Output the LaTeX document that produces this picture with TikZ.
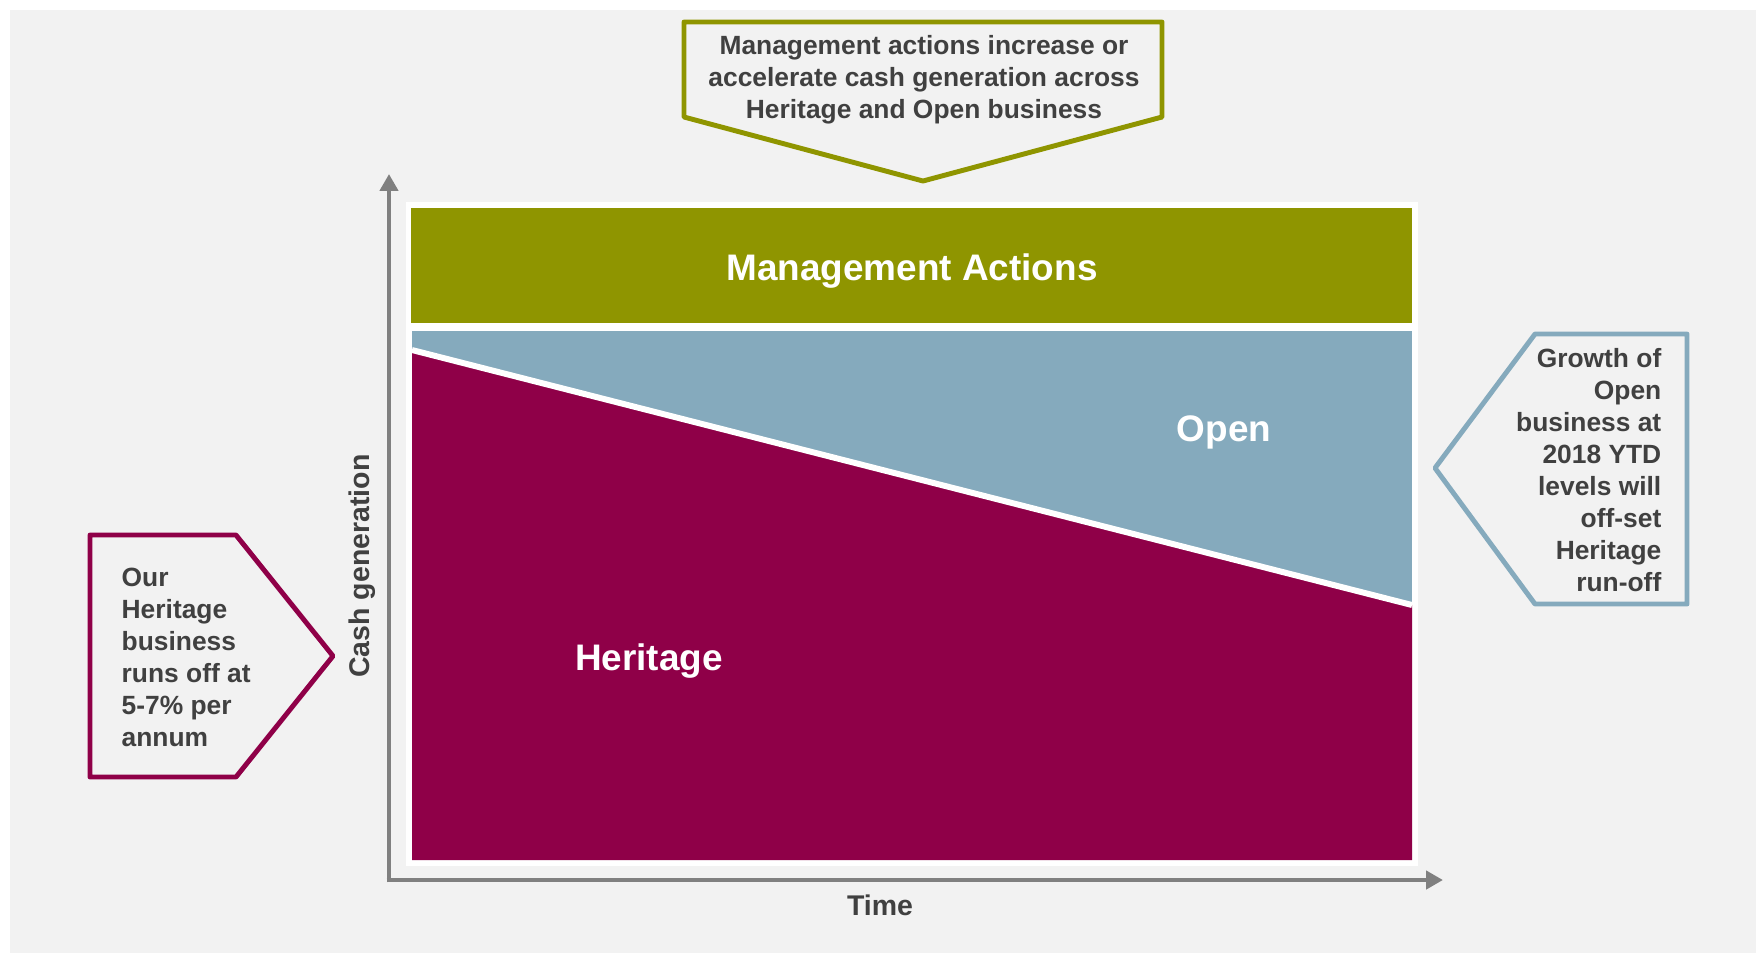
\documentclass[tikz,border=0pt]{standalone}
\usepackage{fontspec}
\setmainfont{Liberation Sans}
\usetikzlibrary{arrows.meta}
\definecolor{bgGrey}{HTML}{F2F2F2}
\definecolor{mgmtGreen}{HTML}{8F9500}
\definecolor{openBlue}{HTML}{85AABD}
\definecolor{herRed}{HTML}{8F0048}
\definecolor{txtGrey}{HTML}{404040}
\definecolor{axGrey}{HTML}{808080}

\begin{document}
\begin{tikzpicture}[x=0.01cm,y=-0.01cm,
  callout/.style={line width=1.4pt,line join=round,fill=bgGrey},
  note/.style={inner sep=0pt,text=txtGrey,font=\fontsize{7.5}{9.1}\selectfont\bfseries},
  band/.style={inner sep=0pt,text=white,font=\fontsize{10.5}{12.6}\selectfont\bfseries},
  axis/.style={axGrey,line width=1.4pt,-{Triangle[length=4.8pt,width=5.1pt]}},
  axlabel/.style={inner sep=0pt,text=txtGrey,font=\fontsize{8.1}{9.7}\selectfont\bfseries}]
\useasboundingbox (0,0) rectangle (1756,953);
\fill[white] (0,0) rectangle (1756,953);
\fill[bgGrey] (10,10) rectangle (1756,953);

% chart
\fill[white] (406,202) rectangle (1418,866);
\fill[mgmtGreen] (411,208) rectangle (1412,323);
\fill[openBlue] (412,331) rectangle (1412,860);
\fill[herRed] (412,350) -- (1412,605) -- (1412,860) -- (412,860) -- cycle;
\draw[white,line width=1.7pt] (412,350) -- (1412,605);
\node[band] (mgmt) at (912,271) {Management Actions};
\node[band] (open) at (1224,432) {Open};
\node[band] (herit) at (649,661) {Heritage};

% axes
\coordinate (orig) at (389,880);
\coordinate (yTop) at (389,174);
\coordinate (xEnd) at (1443,880);
\draw[axis] ([yshift=-0.7pt]orig) -- (yTop);
\draw[axis] ([xshift=-0.7pt]orig) -- (xEnd);
\node[axlabel,rotate=90] (cashLbl) at (362,566) {Cash generation};
\node[axlabel,anchor=base] (timeLbl) at (880,915) {Time};

% callouts
\draw[callout,draw=mgmtGreen] (684,22) -- (1162,22) -- (1162,117) -- (923,181) -- (684,117) -- cycle;
\node[note,align=center] (topNote) at (924,80) {Management actions increase or\\accelerate cash generation across\\Heritage and Open business};
\draw[callout,draw=herRed] (90,535) -- (236,535) -- (333,656) -- (236,777) -- (90,777) -- cycle;
\node[note,align=left,anchor=west] (leftNote) at (121,657) {Our\\Heritage\\business\\runs off at\\5-7\% per\\annum};
\draw[callout,draw=openBlue] (1435,468) -- (1535,334) -- (1687,334) -- (1687,604) -- (1535,604) -- cycle;
\node[note,align=right,anchor=east] (rightNote) at (1662,470) {Growth of\\Open\\business at\\2018 YTD\\levels will\\off-set\\Heritage\\run-off};
\end{tikzpicture}
\end{document}
